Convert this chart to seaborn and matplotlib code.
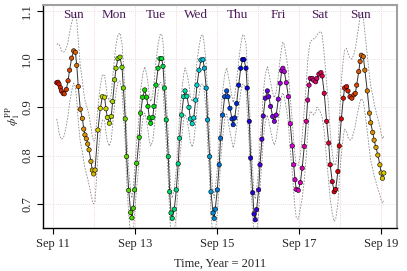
import numpy as np
import pandas as pd
import matplotlib
matplotlib.use("Agg")
import matplotlib.pyplot as plt
from matplotlib.colors import ListedColormap, hsv_to_rgb
import seaborn as sns

# ---- data (hours since Sep 11 2011 00:00) ----
hours = [2.2, 2.9, 3.5, 4.3, 4.9, 5.9, 6.6, 7.8, 8.8, 9.7, 10.9, 12.1, 13.1, 13.9, 14.8, 16.0, 17.2, 18.0, 18.7, 19.5, 20.3, 21.1, 22.2, 23.0, 23.8, 24.6,
         26.3, 27.7, 28.9, 30.2, 31.0, 31.8, 33.0, 34.1, 34.9, 36.1, 36.9, 38.0, 39.2, 40.4, 41.2, 42.3, 43.1, 44.3, 45.5, 46.2, 47.0,
         47.8, 49.0, 50.5, 51.3, 52.5, 53.7, 54.8, 55.6, 56.4, 57.2, 58.4, 59.1, 60.3, 61.5, 62.6, 63.6, 64.4, 65.2, 66.3, 67.5, 68.3, 69.1, 69.8, 71.0,
         72.2, 73.3, 74.1, 75.3, 76.5, 77.3, 78.4, 79.6, 80.4, 81.5, 82.4, 83.5, 84.3, 85.5, 86.6, 87.8, 88.6, 89.7, 90.5, 91.7, 92.5, 93.7, 94.4, 95.0,
         96.2, 97.3, 98.1, 99.3, 100.5, 101.7, 102.4, 103.6, 104.8, 105.5, 106.4, 107.5, 108.7, 109.9, 111.0, 111.8, 113.0, 113.7, 114.9, 115.7, 116.9, 117.7, 118.4, 119.2,
         120.4, 121.2, 122.3, 123.1, 124.3, 125.5, 126.3, 127.4, 128.6, 129.6, 130.7, 131.9, 133.0, 133.9, 134.6, 135.4, 136.6, 137.8, 138.9, 140.1, 140.9, 141.7, 142.4, 143.6,
         144.8, 145.9, 147.1, 148.3, 149.1, 149.9, 150.6, 151.8, 152.6, 153.8, 154.5, 155.7, 156.9, 157.6, 158.8, 160.2, 161.4, 162.3, 163.5, 164.6, 165.5, 166.8, 167.6,
         168.8, 170.0, 170.7, 171.9, 172.7, 173.9, 175.0, 176.2, 177.0, 177.8, 179.0, 179.8, 180.5, 181.7, 182.6, 184.0, 185.3, 186.0, 187.2, 188.0, 189.1, 190.2, 191.4, 192.1, 192.9, 193.7]

phi = [.951, .952, .948, .941, .934, .929, .928, .937, .955, .977, 1.002, 1.017, 1.014, .987, .943, .896, .877, .855, .843, .835, .824, .812, .788, .770, .762, .770,
       .853, .898, .922, .921, .897, .879, .867, .881, .912, .957, .981, 1.001, 1.004, .983, .940, .876, .798, .728, .682, .671, .691,
       .729, .784, .838, .888, .921, .936, .921, .902, .878, .867, .879, .902, .946, .981, 1.001, 1.001, .985, .940, .874, .798, .725, .681, .670, .689,
       .729, .783, .836, .884, .922, .934, .923, .900, .876, .866, .878, .915, .946, .977, .998, .999, .981, .940, .874, .798, .725, .681, .670, .689,
       .729, .781, .836, .884, .922, .934, .922, .898, .876, .864, .878, .908, .946, .981, .999, .999, .981, .940, .871, .795, .723, .679, .667, .688,
       .729, .781, .834, .882, .919, .934, .922, .902, .881, .871, .884, .917, .950, .976, .981, .974, .951, .922, .866, .820, .781, .750, .730, .728,
       .744, .774, .819, .871, .915, .946, .960, .960, .956, .953, .960, .969, .972, .965, .929, .871, .826, .781, .746, .725, .730, .767, .820,
       .876, .919, .940, .943, .934, .922, .919, .926, .929, .946, .974, .995, 1.008, 1.005, .977, .934, .888, .868, .848, .832, .817, .801, .781, .764, .753, .764]

upper = [1.030, 1.032, 1.030, 1.025, 1.018, 1.014, 1.015, 1.022, 1.036, 1.055, 1.075, 1.090, 1.095, 1.080, 1.040, .985, .955, .930, .915, .905, .895, .883, .860, .840, .830, .832,
         .900, .945, .968, .966, .945, .925, .912, .928, .960, 1.005, 1.030, 1.050, 1.054, 1.032, .990, .925, .845, .772, .725, .712, .732,
         .772, .830, .885, .935, .968, .984, .970, .950, .925, .912, .926, .950, .995, 1.030, 1.050, 1.052, 1.035, .990, .922, .845, .770, .725, .712, .732,
         .772, .830, .882, .932, .968, .982, .970, .948, .922, .912, .925, .962, .995, 1.025, 1.048, 1.050, 1.030, .990, .922, .845, .770, .725, .712, .732,
         .772, .828, .882, .932, .968, .982, .970, .946, .922, .910, .925, .955, .995, 1.030, 1.050, 1.050, 1.030, .990, .920, .842, .768, .722, .710, .730,
         .772, .828, .880, .930, .968, .984, .972, .952, .930, .920, .932, .965, 1.000, 1.025, 1.035, 1.030, 1.005, .975, .920, .872, .832, .800, .782, .780,
         .800, .840, .895, .950, .995, 1.020, 1.036, 1.040, 1.042, 1.045, 1.050, 1.055, 1.057, 1.050, 1.010, .950, .900, .850, .805, .780, .782, .815, .870,
         .955, 1.000, 1.018, 1.022, 1.012, 1.002, 1.000, 1.010, 1.022, 1.040, 1.068, 1.088, 1.095, 1.085, 1.055, 1.010, .965, .945, .925, .908, .892, .876, .860, .845, .835, .840]

lower = [.876, .862, .848, .838, .834, .836, .842, .862, .884, .908, .934, .950, .942, .914, .870, .828, .808, .788, .774, .764, .752, .740, .720, .706, .700, .705,
         .800, .848, .874, .872, .848, .830, .820, .832, .862, .908, .932, .952, .955, .934, .890, .826, .750, .680, .630, .618, .640,
         .680, .735, .790, .840, .874, .888, .872, .852, .830, .820, .830, .852, .896, .932, .952, .950, .935, .890, .826, .750, .678, .632, .618, .640,
         .680, .735, .788, .836, .875, .886, .875, .852, .828, .818, .830, .866, .896, .928, .948, .948, .932, .890, .826, .750, .678, .632, .618, .640,
         .680, .734, .788, .836, .875, .886, .874, .850, .828, .816, .830, .860, .896, .932, .948, .948, .932, .890, .822, .748, .676, .630, .616, .638,
         .680, .734, .786, .834, .870, .884, .872, .852, .832, .822, .836, .868, .900, .926, .930, .922, .898, .868, .812, .765, .725, .692, .672, .668,
         .690, .712, .748, .800, .845, .878, .892, .888, .884, .890, .900, .895, .888, .880, .850, .795, .750, .710, .680, .664, .668, .700, .752,
         .800, .840, .855, .850, .838, .832, .835, .850, .862, .880, .900, .912, .918, .912, .890, .850, .810, .790, .772, .758, .745, .732, .718, .708, .702, .706]

day_names = ["Sun", "Mon", "Tue", "Wed", "Thu", "Fri", "Sat", "Sun"]
tick_days = [0, 2, 4, 6, 8]
tick_labels = ["Sep 11", "Sep 13", "Sep 15", "Sep 17", "Sep 19"]
y_ticks = [0.7, 0.8, 0.9, 1.0, 1.1]

assert len(hours) == len(phi) == len(upper) == len(lower), (len(hours), len(phi), len(upper), len(lower))

# ---- figure ----
sns.set_theme(style="white")
plt.rcParams["font.family"] = ["Liberation Serif", "DejaVu Serif"]
plt.rcParams["mathtext.fontset"] = "stix"

df = pd.DataFrame({"day": np.array(hours) / 24.0, "phi": phi, "upper": upper, "lower": lower})
df["phase"] = (df["day"] / 7.0) % 1.0

h = np.linspace(0, 1, 256)
cmap = ListedColormap(hsv_to_rgb(np.stack([h, np.full(256, 1.0), np.full(256, 0.85)], axis=1)))

fig = plt.figure(figsize=(4.07, 2.71), dpi=100)
ax = fig.add_axes([0.1057, 0.1587, 0.8697, 0.8228])

# grid
for d in range(0, 9):
    ax.axvline(d, color="#f2c4cc", lw=0.6, ls=(0, (1, 1.5)), zorder=0)
for yv in y_ticks:
    ax.axhline(yv, color="#e2d8da", lw=0.6, ls=(0, (1, 1.5)), zorder=0)

sns.lineplot(data=df, x="day", y="upper", color="#8a8a8a", lw=0.6, linestyle=(0, (2, 1.6)),
             estimator=None, sort=False, ax=ax, zorder=1)
sns.lineplot(data=df, x="day", y="lower", color="#8a8a8a", lw=0.6, linestyle=(0, (2, 1.6)),
             estimator=None, sort=False, ax=ax, zorder=1)
sns.lineplot(data=df, x="day", y="phi", color="#333333", lw=0.7,
             estimator=None, sort=False, ax=ax, zorder=2)
sns.scatterplot(data=df, x="day", y="phi", hue="phase", palette=cmap, hue_norm=(0, 1),
                s=10, edgecolor="black", linewidth=0.4, legend=False, ax=ax, zorder=3)

for i, name in enumerate(day_names):
    ax.text(i + 0.5, 1.091, name, ha="center", va="center", color="#4a1a5a", fontsize=9.5)

ax.set_xlim(-5.85 / 24, 201.4 / 24)
ax.set_ylim(0.65, 1.112)
ax.set_xticks(tick_days)
ax.set_xticklabels(tick_labels)
ax.set_yticks(y_ticks)
ax.set_yticklabels([f"{v:.1f}" for v in y_ticks], rotation=90, va="center")
ax.tick_params(axis="both", direction="out", length=4, width=0.8, color="black",
               labelsize=9, pad=3, bottom=True, left=True)

for s in ["left", "bottom"]:
    ax.spines[s].set_color("black")
    ax.spines[s].set_linewidth(1.0)
for s in ["top", "right"]:
    ax.spines[s].set_color("#a0a0a0")
    ax.spines[s].set_linewidth(1.5)

ax.set_xlabel("Time, Year = 2011", fontsize=9, labelpad=6)
ax.set_ylabel(r"$\phi_1^{\mathrm{PP}}$", fontsize=8.5)
ax.yaxis.set_label_coords(-0.058, 0.5)

fig.savefig("out.png", dpi=100)
